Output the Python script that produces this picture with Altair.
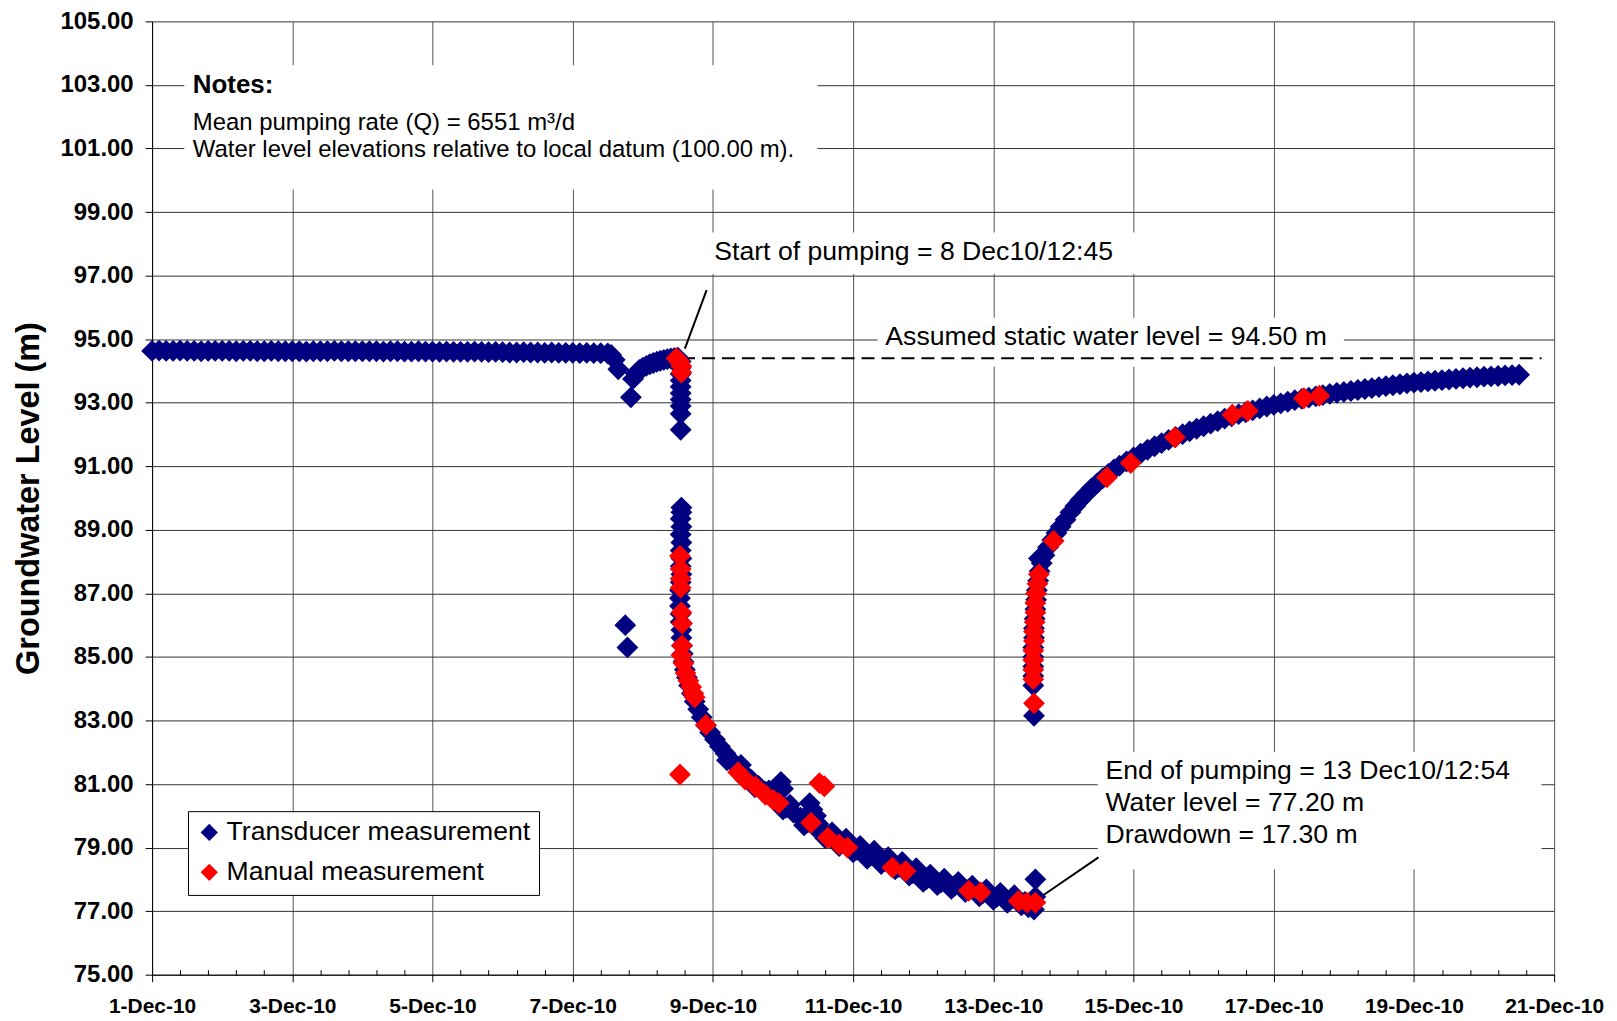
import altair as alt
import pandas as pd

FONT = "Liberation Sans"

# ---------------- data (days since 1-Dec-10 00:00, level in m) ----------------
pre_day = [0.0, 0.1, 0.2, 0.3, 0.4, 0.5, 0.6, 0.7, 0.8, 0.9,
           1.0, 1.1, 1.2, 1.3, 1.4, 1.5, 1.6, 1.7, 1.8, 1.9,
           2.0, 2.1, 2.2, 2.3, 2.4, 2.5, 2.6, 2.7, 2.8, 2.9,
           3.0, 3.1, 3.2, 3.3, 3.4, 3.5, 3.6, 3.7, 3.8, 3.9,
           4.0, 4.1, 4.2, 4.3, 4.4, 4.5, 4.6, 4.7, 4.8, 4.9,
           5.0, 5.1, 5.2, 5.3, 5.4, 5.5, 5.6, 5.7, 5.8, 5.9,
           6.0, 6.1, 6.2, 6.3, 6.4, 6.5, 6.55, 6.6, 6.65]
pre_level = [94.63, 94.64, 94.63, 94.63, 94.64, 94.63, 94.63, 94.62, 94.63, 94.63,
             94.63, 94.63, 94.62, 94.63, 94.63, 94.62, 94.62, 94.63, 94.62, 94.62,
             94.62, 94.62, 94.61, 94.62, 94.62, 94.62, 94.63, 94.62, 94.62, 94.62,
             94.62, 94.62, 94.62, 94.61, 94.62, 94.62, 94.61, 94.61, 94.62, 94.61,
             94.61, 94.60, 94.61, 94.60, 94.60, 94.60, 94.61, 94.60, 94.59, 94.60,
             94.59, 94.58, 94.58, 94.59, 94.58, 94.58, 94.57, 94.58, 94.57, 94.57,
             94.57, 94.56, 94.57, 94.56, 94.56, 94.55, 94.50, 94.35, 94.05]

early_day = [6.75, 6.78, 6.83, 6.86, 6.9, 6.95, 7.0, 7.05, 7.1, 7.15, 7.2, 7.25, 7.3,
             7.35, 7.4, 7.45, 7.5, 7.54, 7.54, 7.54, 7.54, 7.54, 7.54, 7.54, 7.54,
             7.54, 7.54]
early_level = [86.0, 85.3, 93.17, 93.75, 93.92, 94.03, 94.1, 94.16, 94.21, 94.25,
               94.29, 94.32, 94.35, 94.37, 94.39, 94.41, 94.42, 94.3, 94.1, 93.9,
               93.7, 93.5, 93.3, 93.1, 92.9, 92.65, 92.15]

draw_day = [7.55, 7.55, 7.54, 7.55, 7.54, 7.55, 7.54, 7.55, 7.54, 7.55,
            7.54, 7.53, 7.53, 7.53, 7.54, 7.54, 7.55, 7.55, 7.56, 7.57, 7.58,
            7.6, 7.63, 7.66, 7.7, 7.74, 7.79, 7.84, 7.9, 7.96, 8.03,
            8.1, 8.18, 8.26,
            8.35, 8.45, 8.55, 8.65, 8.75, 8.85, 8.95, 9.05, 9.15, 9.25,
            9.35, 9.45, 9.55, 9.65, 9.75, 9.85, 9.95, 10.05, 10.15, 10.25,
            10.35, 10.45, 10.55, 10.65, 10.75, 10.85, 10.95, 11.05, 11.15, 11.25,
            11.35, 11.45, 11.55, 11.65, 11.75, 11.85, 11.95, 12.05, 12.15, 12.25,
            12.35, 12.45, 12.55]
draw_level = [89.7, 89.55, 89.35, 89.1, 88.85, 88.6, 88.35, 88.1, 87.85, 87.6,
              87.35, 87.1, 86.85, 86.6, 86.35, 86.1, 85.85, 85.6, 85.35, 85.1, 84.85,
              84.6, 84.35, 84.1, 83.85, 83.6, 83.35, 83.1, 82.85, 82.62, 82.4,
              82.18, 81.96, 81.75,
              81.54, 81.33, 81.13, 80.94, 80.76, 80.58, 80.42, 80.26, 80.1, 79.94,
              79.79, 79.65, 79.52, 79.39, 79.27, 79.15, 79.04, 78.93, 78.84, 78.75,
              78.66, 78.57, 78.48, 78.39, 78.3, 78.2, 78.1, 78.01, 77.95, 77.9,
              77.85, 77.8, 77.74, 77.68, 77.62, 77.56, 77.5, 77.45, 77.41, 77.37,
              77.33, 77.29, 77.26]

scatter_day = [8.2, 8.4, 8.6, 8.8, 8.97, 9.0, 9.0, 9.1, 9.3, 9.38, 9.42, 9.47, 9.5,
               9.6, 9.7, 9.8, 9.9, 10.0, 10.1, 10.2, 10.3, 10.4, 10.5,
               10.6, 10.7, 10.8, 10.9, 11.0, 11.1, 11.2, 11.3, 11.4, 11.5,
               11.6, 11.7, 11.8, 11.9, 12.0, 12.1, 12.2, 12.3, 12.4, 12.5,
               12.58, 12.6, 12.6]
scatter_level = [81.75, 81.6, 80.9, 80.8, 81.07, 80.85, 80.2, 80.35, 79.7, 80.4, 80.2, 80.0, 79.75,
                 79.3, 79.48, 79.05, 79.28, 78.85, 79.05, 78.65, 78.9, 78.48, 78.7,
                 78.32, 78.55, 78.12, 78.35, 77.92, 78.15, 77.82, 78.02, 77.7, 77.92,
                 77.6, 77.8, 77.47, 77.68, 77.36, 77.57, 77.26, 77.5, 77.18, 77.12,
                 77.05, 77.45, 78.0]

rec_day = [12.58, 12.57, 12.57, 12.57, 12.57, 12.57, 12.58, 12.58, 12.59, 12.6,
           12.61, 12.62, 12.64, 12.66, 12.69, 12.65, 12.73, 12.78, 12.84, 12.9,
           12.96, 13.03, 13.1, 13.17, 13.24, 13.32, 13.4, 13.48, 13.56, 13.64,
           13.72, 13.8, 13.9,
           14.0, 14.1, 14.2, 14.3, 14.4, 14.5, 14.6, 14.7, 14.8, 14.9,
           15.0, 15.1, 15.2, 15.3, 15.4, 15.5, 15.6, 15.7, 15.8, 15.9,
           16.0, 16.1, 16.2, 16.3, 16.4, 16.5, 16.6, 16.7, 16.8, 16.9,
           17.0, 17.1, 17.2, 17.3, 17.4, 17.5, 17.6, 17.7, 17.8, 17.9,
           18.0, 18.1, 18.2, 18.3, 18.4, 18.5, 18.6, 18.7, 18.8, 18.9,
           19.0, 19.1, 19.2, 19.3, 19.4, 19.5]
rec_level = [83.15, 84.1, 84.4, 84.7, 85.0, 85.3, 85.6, 85.9, 86.2, 86.5,
             86.8, 87.1, 87.4, 87.7, 87.95, 88.1, 88.2, 88.45, 88.68, 88.9,
             89.1, 89.32, 89.55, 89.75, 89.93, 90.12, 90.3, 90.46, 90.62, 90.76,
             90.9, 91.02, 91.15,
             91.28, 91.4, 91.52, 91.63, 91.73, 91.83, 91.92, 92.01, 92.1, 92.18,
             92.26, 92.34, 92.42, 92.5, 92.57, 92.64, 92.7, 92.76, 92.82, 92.88,
             92.93, 92.98, 93.03, 93.08, 93.12, 93.16, 93.2, 93.24, 93.28, 93.31,
             93.34, 93.37, 93.4, 93.43, 93.46, 93.49, 93.52, 93.55, 93.58, 93.61,
             93.63, 93.65, 93.67, 93.69, 93.71, 93.73, 93.75, 93.77, 93.79, 93.8,
             93.82, 93.83, 93.84, 93.86, 93.87, 93.88]

manual_day = [7.48, 7.52, 7.55, 7.55, 7.53,
              7.53, 7.54, 7.54, 7.54, 7.55, 7.56, 7.56, 7.55, 7.58, 7.61, 7.65, 7.69, 7.72, 7.74, 7.9,
              8.36, 8.46, 8.61, 8.75, 8.86, 8.94,
              9.4, 9.52, 9.59, 9.64, 9.8, 9.92,
              10.56, 10.75, 11.65, 11.82, 12.36, 12.48, 12.6,
              12.58, 12.57, 12.57, 12.57, 12.57, 12.58, 12.58, 12.59, 12.6, 12.6, 12.61, 12.63, 12.65,
              12.86, 13.62, 13.96, 14.59, 15.41, 15.63, 16.43, 16.65]
manual_level = [94.4, 94.3, 94.15, 93.95, 81.3,
                88.18, 87.77, 87.46, 87.18, 86.4, 86.05, 85.36, 85.05, 84.8, 84.49, 84.25, 84.05, 83.85, 83.73, 82.86,
                81.37, 81.14, 80.92, 80.66, 80.5, 80.4,
                79.78, 81.03, 80.93, 79.31, 79.1, 79.0,
                78.37, 78.26, 77.64, 77.59, 77.32, 77.27, 77.27,
                83.54, 84.3, 84.6, 84.9, 85.2, 85.5, 85.8, 86.1, 86.4, 86.7, 87.0, 87.3, 87.6,
                88.65, 90.65, 91.1, 91.91, 92.62, 92.74, 93.14, 93.22]

series_names = ["Transducer measurement", "Manual measurement"]
series_colors = ["#000080", "#FF0000"]

x_major = [0, 2, 4, 6, 8, 10, 12, 14, 16, 18, 20]
x_minor = [round(i * 0.4, 1) for i in range(1, 50) if i % 5]
y_major = [75, 77, 79, 81, 83, 85, 87, 89, 91, 93, 95, 97, 99, 101, 103, 105]

# annotation geometry in data coordinates (day, level)
box_day = [0.46, 7.87, 10.35, 13.49]
box_day2 = [9.49, 14.3, 17.0, 19.82]
box_level = [103.62, 98.36, 95.67, 82.01]
box_level2 = [99.71, 97.05, 94.13, 78.32]

static_level = 94.4
leader_day = [7.91, 13.5]
leader_level = [96.54, 78.69]
leader_day2 = [7.6, 12.69]
leader_level2 = [94.7, 77.47]

text_str = ["Mean pumping rate (Q) = 6551 m³/d",
            "Water level elevations relative to local datum (100.00 m).",
            "Start of pumping = 8 Dec10/12:45",
            "Assumed static water level = 94.50 m",
            "End of pumping = 13 Dec10/12:54",
            "Water level = 77.20 m",
            "Drawdown = 17.30 m"]
text_day = [0.58, 0.58, 8.02, 10.46, 13.6, 13.6, 13.6]
text_level = [101.58, 100.74, 97.5, 94.81, 81.17, 80.15, 79.13]
text_size = [24, 24, 26.7, 26.7, 26.7, 26.7, 26.7]

# ---------------- build frames ----------------
t_day = pre_day + early_day + draw_day + scatter_day + rec_day
t_level = pre_level + early_level + draw_level + scatter_level + rec_level
points = pd.DataFrame({
    "day": t_day + manual_day,
    "level": t_level + manual_level,
    "series": [series_names[0]] * len(t_day) + [series_names[1]] * len(manual_day),
})
boxes = pd.DataFrame({"day": box_day, "day2": box_day2, "level": box_level, "level2": box_level2})
dashed = pd.DataFrame({"day": [7.56], "day2": [19.82], "level": [static_level]})
leaders = pd.DataFrame({"day": leader_day, "day2": leader_day2, "level": leader_level, "level2": leader_level2})
texts = pd.DataFrame({"day": text_day, "level": text_level, "t": text_str, "fs": text_size})
notes_head = pd.DataFrame({"day": [0.58], "level": [102.75], "t": ["Notes:"]})

xs = alt.Scale(domain=[0, 20], nice=False, zero=False)
ys = alt.Scale(domain=[75, 105], nice=False, zero=False)

x_axis = alt.Axis(values=x_major, labelExpr="(datum.value + 1) + '-Dec-10'", title=None,
                  orient="bottom", grid=True, gridColor="#555555", gridWidth=1,
                  tickSize=7, tickColor="black", domainColor="black", domainWidth=1,
                  labelFont=FONT, labelFontSize=21, labelFontWeight="bold", labelColor="black",
                  labelPadding=14, labelFlush=False, labelOverlap=False, labelBound=False)
y_axis = alt.Axis(values=y_major, format=".2f", title="Groundwater Level (m)", orient="left",
                  grid=True, gridColor="#333333", gridWidth=1,
                  tickSize=7, tickColor="black", domainColor="black", domainWidth=1,
                  labelFont=FONT, labelFontSize=24, labelFontWeight="bold", labelColor="black",
                  labelPadding=12, labelFlush=False, labelOverlap=False,
                  titleFont=FONT, titleFontSize=32.5, titleFontWeight="bold", titleColor="black",
                  titleAngle=270, titleX=-124, titleY=478, titleAlign="center",
                  titleBaseline="middle")
minor_axis = alt.Axis(values=x_minor, orient="bottom", offset=-5, tickSize=5,
                      tickColor="black", labels=False, domain=False, grid=False, title=None)

rects = alt.Chart(boxes).mark_rect(color="white", opacity=1).encode(
    x=alt.X("day:Q", scale=xs, axis=None), x2="day2:Q",
    y=alt.Y("level:Q", scale=ys, axis=None), y2="level2:Q")

dash_rule = alt.Chart(dashed).mark_rule(color="black", strokeWidth=2.2, strokeDash=[13, 7]).encode(
    x=alt.X("day:Q", scale=xs, axis=None), x2="day2:Q",
    y=alt.Y("level:Q", scale=ys, axis=None))

leader_rule = alt.Chart(leaders).mark_rule(color="black", strokeWidth=2).encode(
    x=alt.X("day:Q", scale=xs, axis=None), x2="day2:Q",
    y=alt.Y("level:Q", scale=ys, axis=None), y2="level2:Q")

pts = alt.Chart(points).mark_point(shape="diamond", filled=True, size=480, opacity=1,
                                   strokeWidth=0).encode(
    x=alt.X("day:Q", scale=xs, axis=x_axis),
    y=alt.Y("level:Q", scale=ys, axis=y_axis),
    color=alt.Color("series:N",
                    scale=alt.Scale(domain=series_names, range=series_colors),
                    legend=alt.Legend(title=None, orient="none", legendX=36, legendY=792,
                                      direction="vertical", fillColor="white",
                                      strokeColor="black", padding=8,
                                      labelFont=FONT, labelFontSize=26.7, labelColor="black",
                                      labelLimit=500, labelOffset=4, rowPadding=12,
                                      symbolSize=300, symbolType="diamond",
                                      symbolStrokeWidth=0, symbolOpacity=1, cornerRadius=0)))

txt = alt.Chart(texts).mark_text(align="left", baseline="alphabetic", font=FONT,
                                 color="black").encode(
    x=alt.X("day:Q", scale=xs, axis=None),
    y=alt.Y("level:Q", scale=ys, axis=None),
    text="t:N",
    size=alt.Size("fs:Q", scale=None, legend=None))

head = alt.Chart(notes_head).mark_text(align="left", baseline="alphabetic", font=FONT,
                                       fontSize=26, fontWeight="bold", color="black").encode(
    x=alt.X("day:Q", scale=xs, axis=None),
    y=alt.Y("level:Q", scale=ys, axis=None),
    text="t:N")

minor = alt.Chart(pd.DataFrame({"day": [0.0]})).mark_point(opacity=0).encode(
    x=alt.X("day:Q", scale=xs, axis=minor_axis))

chart = alt.layer(rects, dash_rule, leader_rule, pts, txt, head, minor).resolve_axis(
    x="independent", y="independent"
).properties(
    width=1406, height=956,
    autosize=alt.AutoSizeParams(type="none"),
    padding={"left": 144.5, "top": 12, "right": 55, "bottom": 43},
).configure_view(strokeWidth=0)

chart.save("out.html", embed_options={"renderer": "svg", "actions": False})
